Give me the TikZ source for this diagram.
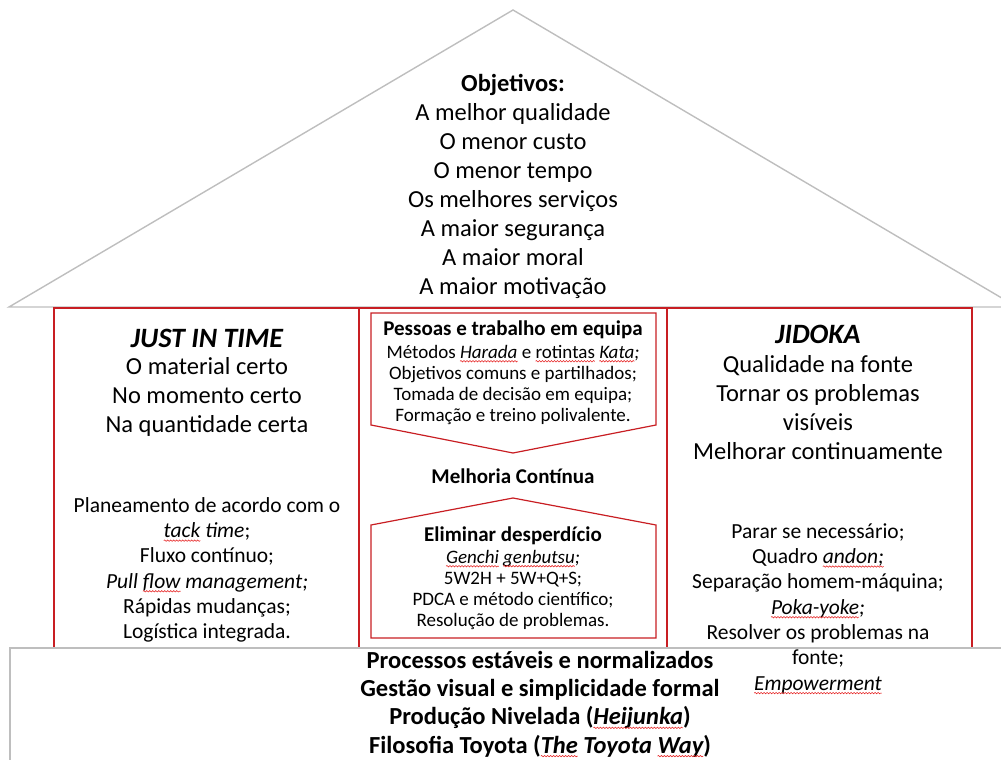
\documentclass[tikz,border=0pt]{standalone}
\usepackage{fontspec}
\setmainfont{Carlito}
\usetikzlibrary{decorations.pathmorphing}
\definecolor{pillar}{RGB}{200,30,35}
\definecolor{frame}{RGB}{190,190,190}
\definecolor{spell}{RGB}{230,40,40}
% wavy red underline for flagged words
\newcommand\squig[1]{\tikz[baseline=(w.base)]{\node[inner sep=0pt, outer sep=0pt, font={}, align=left] (w) {#1};
  \draw[overlay, spell, line width=0.6pt, decorate, decoration={snake, amplitude=0.7pt, segment length=3pt}]
    ([yshift=-3pt]w.base west) -- ([yshift=-3pt]w.base east);}}
\tikzset{
  txt/.style={align=center, inner sep=0pt, text=black},
  big/.style={font=\fontsize{24.5}{29}\selectfont},
  head/.style={font=\fontsize{28}{30}\selectfont\bfseries\itshape},
  list/.style={font=\fontsize{21.5}{25.3}\selectfont},
  midhead/.style={font=\fontsize{21}{21}\selectfont\bfseries},
  midlist/.style={font=\fontsize{19}{21.2}\selectfont},
  basetext/.style={font=\fontsize{24.5}{28.3}\selectfont\bfseries},
  pillarline/.style={draw=pillar, line width=1.4pt},
  frameline/.style={draw=frame, line width=1.4pt},
}
\begin{document}
\begin{tikzpicture}[x=1pt,y=-1pt]
\useasboundingbox (0,0) rectangle (1001,760);
\clip (0,0) rectangle (1001,760);

% roof
\draw[frameline, line join=miter] (9,307) -- (513,10) -- (1017,307) -- cycle;

% pillars
\draw[pillarline] (54,648) -- (54,308) -- (972,308) -- (972,648);
\draw[pillarline] (359,308) -- (359,648);
\draw[pillarline] (667,308) -- (667,648);

% inner arrow shapes of the middle pillar
\draw[pillarline, line width=1.2pt] (371,313) -- (656,313) -- (656,425) -- (513,453) -- (371,425) -- cycle;
\draw[pillarline, line width=1.2pt] (513,498) -- (656,525) -- (656,638) -- (371,638) -- (371,525) -- cycle;

% foundation
\draw[frameline] (10,790) -- (10,648) -- (1040,648) -- (1040,790);

% roof text
\node[txt, big] (goals) at (513,186) {\textbf{Objetivos:}\\A melhor qualidade\\O menor custo\\O menor tempo\\Os melhores serviços\\A maior segurança\\A maior moral\\A maior motivação};

% left pillar
\node[txt, head] (jit) at (207,338) {JUST IN TIME};
\node[txt, big] (jitaims) at (207,397) {O material certo\\No momento certo\\Na quantidade certa};
\node[txt, list] (jittools) at (207,570) {Planeamento de acordo com o\\\textit{\squig{tack} time};\\Fluxo contínuo;\\\textit{Pull \squig{flow} management;}\\Rápidas mudanças;\\Logística integrada.};

% right pillar
\node[txt, head] (jidoka) at (818,334) {JIDOKA};
\node[txt, big] (jidaims) at (818,408) {Qualidade na fonte\\Tornar os problemas\\visíveis\\Melhorar continuamente};
\node[txt, list] (jidtools) at (818,608.5) {Parar se necessário;\\Quadro \textit{\squig{andon;}}\\Separação homem-máquina;\\\textit{\squig{Poka-yoke};}\\Resolver os problemas na\\fonte;\\\textit{\squig{Empowerment}}};

% middle pillar
\node[txt, midhead] (people) at (513,330) {Pessoas e trabalho em equipa};
\node[txt, midlist] (peoplelist) at (513,385) {Métodos \textit{\squig{Harada}} e \squig{rotintas} \textit{\squig{Kata};}\\Objetivos comuns e partilhados;\\Tomada de decisão em equipa;\\Formação e treino polivalente.};
\node[txt, midhead] (kaizen) at (513,476) {Melhoria Contínua};
\node[txt, midhead] (waste) at (513,536) {Eliminar desperdício};
\node[txt, midlist] (wastelist) at (513,590) {\textit{\squig{Genchi} \squig{genbutsu};}\\5W2H + 5W+Q+S;\\PDCA e método científico;\\Resolução de problemas.};

% foundation text
\node[txt, basetext] (base) at (540,704) {Processos estáveis e normalizados\\Gestão visual e simplicidade formal\\Produção Nivelada (\textit{\squig{Heijunka}})\\Filosofia Toyota (\textit{\squig{The} Toyota \squig{Way}})};
\end{tikzpicture}
\end{document}
